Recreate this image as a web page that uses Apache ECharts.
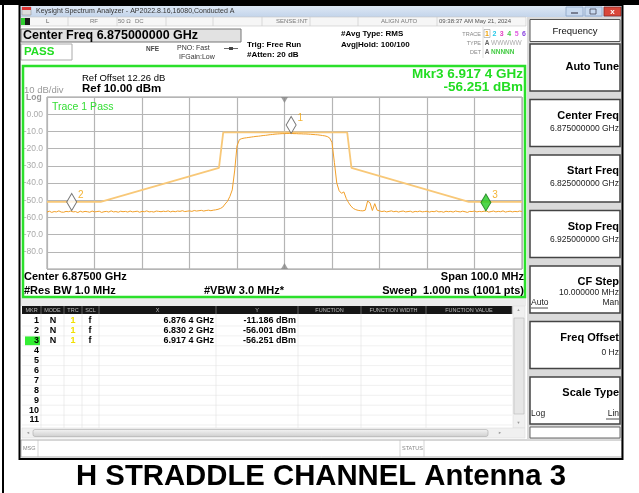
<!DOCTYPE html>
<html>
<head>
<meta charset="utf-8">
<script src="https://cdn.jsdelivr.net/npm/echarts@6/dist/echarts.min.js"></script>
<style>
  html, body { margin: 0; padding: 0; background: #fff; }
  #chart { width: 639px; height: 493px; }
</style>
</head>
<body>
<div id="chart"></div>
<script>
// frequency is MHz offset from centre (6.875 GHz), level in dBm
var centerMHz = 6875;
var traceStart = -50;
var traceStep = 0.5;
var traceLevel = [
  -56.9,-56.4,-57.1,-56.6,-56.8,-56.2,-56.9,-57.0,-56.5,-56.7,
  -56.3,-56.8,-56.6,-57.2,-56.4,-56.9,-56.5,-56.7,-57.0,-56.3,
  -56.8,-56.6,-56.4,-57.1,-56.7,-56.5,-56.9,-56.2,-56.8,-56.6,
  -57.0,-56.4,-56.7,-56.5,-56.9,-56.3,-56.8,-56.6,-56.4,-57.0,
  -56.5,-56.7,-56.2,-56.8,-56.6,-56.9,-56.3,-56.5,-56.7,-56.4,
  -56.6,-56.2,-56.8,-56.4,-56.7,-56.3,-56.5,-56.1,-56.6,-56.4,
  -56.2,-56.5,-56.0,-56.3,-56.1,-55.9,-56.3,-56.0,-55.8,-56.1,
  -55.8,-55.6,-55.3,-54.8,-54.0,-52.2,-50.6,-47.8,-44.0,-33.0,
  -18.5,-14.8,-14.2,-13.9,-13.7,-13.5,-13.3,-13.1,-12.9,-12.8,
  -12.6,-12.4,-12.3,-12.1,-11.9,-11.8,-11.6,-11.5,-11.4,-11.3,
  -11.3,-11.2,-11.2,-11.19,-11.3,-11.3,-11.4,-11.4,-11.5,-11.5,
  -11.6,-11.7,-11.8,-11.9,-12.0,-12.2,-12.4,-12.6,-13.0,-13.8,
  -16.5,-28.0,-40.0,-44.5,-46.0,-45.2,-49.0,-51.5,-53.5,-54.8,
  -55.5,-55.9,-56.1,-56.2,-55.8,-50.5,-51.5,-56.0,-52.0,-55.8,
  -56.2,-56.6,-56.3,-56.8,-56.5,-56.2,-56.7,-56.4,-56.9,-56.5,
  -56.3,-56.8,-56.6,-56.4,-57.0,-56.5,-56.7,-56.3,-56.8,-56.6,
  -56.4,-56.9,-56.5,-56.7,-56.2,-56.8,-56.6,-57.0,-56.4,-56.7,
  -56.5,-56.9,-56.3,-56.6,-56.8,-56.4,-56.7,-57.1,-56.5,-56.6,
  -56.3,-56.8,-56.5,-56.7,-56.4,-56.3,-56.9,-56.6,-56.3,-56.8,
  -56.5,-56.7,-56.2,-56.9,-56.6,-56.4,-56.8,-56.5,-56.7,-56.3,-56.6
];
var limitFreq = [-50, -38.7, -13.8, -12.9, 13.2, 14.1, 38.8, 50];
var limitLevel = [-51, -51, -31.2, -10.6, -10.6, -31.2, -51, -51];
var markerNames = ['1', '2', '3'];
var markerFreq = [1.4, -44.8, 42.4];
var markerLevel = [-11.186, -56.001, -56.251];
var tableRows = ['1','2','3','4','5','6','7','8','9','10','11'];
var tableCols = ['MKR','MODE','TRC','SCL','X','Y','FUNCTION','FUNCTION WIDTH','FUNCTION VALUE'];
var colEdges = [22, 41, 64, 82, 99, 216, 298, 361, 426, 512];
var softkeys = ['Auto Tune','Center Freq','Start Freq','Stop Freq','CF Step','Freq Offset','Scale Type'];
var softValues = ['', '6.875000000 GHz', '6.825000000 GHz', '6.925000000 GHz', '10.000000 MHz', '0 Hz', ''];

var F = '"Liberation Sans", Arial, sans-serif';

function fmtFreq(f) {
    var s = ((centerMHz + f) / 1000).toFixed(4);
    return s.slice(0, -1) + ' ' + s.slice(-1) + ' GHz';
}
function fmtLevel(v) {
    return v.toFixed(3) + ' dBm';
}

function txt(x, y, s, size, o) {
    o = o || {};
    return {
        type: 'text', x: x, y: y, z: 20,
        style: {
            text: s, fill: o.color || '#000',
            font: (o.bold ? 'bold ' : '') + size + 'px ' + F,
            align: o.align || 'left', verticalAlign: 'middle'
        }
    };
}
function box(x, y, w, h, fill, stroke, lw, z) {
    return {
        type: 'rect', z: z || 5,
        shape: { x: x, y: y, width: w, height: h },
        style: { fill: fill || 'none', stroke: stroke || null, lineWidth: lw || 1 }
    };
}
function ln(x1, y1, x2, y2, c, lw) {
    return {
        type: 'line', z: 6,
        shape: { x1: x1, y1: y1, x2: x2, y2: y2 },
        style: { stroke: c, lineWidth: lw || 1 }
    };
}

var g = [];

// page frame
g.push(box(0, 0, 639, 5, '#000'));
g.push(box(2, 0, 2, 493, '#000'));
g.push(box(19.5, 5, 603, 454, 'none', '#000', 2, 7));

// title bar
g.push({
    type: 'rect', z: 5, shape: { x: 20, y: 5, width: 602, height: 12 },
    style: { fill: new echarts.graphic.LinearGradient(0, 0, 0, 1, [
        { offset: 0, color: '#dfe9f6' }, { offset: 1, color: '#c3d4ea' }]) }
});
g.push(box(22, 7, 9, 8, '#ddd', '#888', 0.5));
g.push(box(22, 7, 9, 3, '#d33'));
g.push(txt(36, 11, 'Keysight Spectrum Analyzer - AP2022.8.16,16080,Conducted A', 7, { color: '#333' }));
g.push(box(566, 7, 17, 9, '#c9daf0', '#8aa2c4', 0.8));
g.push(box(585, 7, 17, 9, '#c9daf0', '#8aa2c4', 0.8));
g.push(box(604, 7, 17, 9, '#d9473a', '#8c2a22', 0.8));
g.push(ln(571, 13, 578, 13, '#445', 1.2));
g.push(box(590, 9, 6, 5, 'none', '#445', 0.8));
g.push(txt(612.5, 11.5, 'x', 8, { color: '#fff', bold: true, align: 'center' }));

// status row
g.push(box(20, 17, 506, 9, '#f6f6f6', '#c8c8c8', 0.6));
g.push(box(21, 18, 9, 7, '#1a1a1a'));
g.push(box(21, 18, 4, 7, '#2ecc2e'));
[68, 117, 166, 213, 262, 310, 358, 437].forEach(function (x) {
    g.push(ln(x, 17, x, 26, '#c8c8c8', 0.6));
});
g.push(txt(46, 21.5, 'L', 6, { color: '#555' }));
g.push(txt(90, 21.5, 'RF', 6, { color: '#777' }));
g.push(txt(118, 21.5, '50 Ω', 6, { color: '#777' }));
g.push(txt(135, 21.5, 'DC', 6, { color: '#777' }));
g.push(txt(276, 21.5, 'SENSE:INT', 6, { color: '#777' }));
g.push(txt(381, 21.5, 'ALIGN AUTO', 6, { color: '#777' }));
g.push(txt(439, 21.5, '09:38:37 AM May 21, 2024', 6, { color: '#555' }));

// setting summary
g.push(box(21, 29, 220, 13, '#e2e2e2', '#777', 1));
g.push(txt(23, 35.5, 'Center Freq 6.875000000 GHz', 12.5, { bold: true }));
g.push(box(21, 44, 51, 16, '#fff', '#aaa', 1));
g.push(txt(24, 52, 'PASS', 11.5, { bold: true, color: '#22dd22' }));
g.push(txt(146, 49, 'NFE', 6.5, { bold: true, color: '#444' }));
g.push(txt(177, 48.5, 'PNO: Fast', 7, { color: '#333' }));
g.push(ln(224, 48.5, 238, 48.5, '#444', 0.8));
g.push(box(229, 47, 4, 3, '#444'));
g.push(txt(179, 57, 'IFGain:Low', 7, { color: '#333' }));
g.push(txt(247, 44.5, 'Trig: Free Run', 8, { bold: true }));
g.push(txt(247, 55, '#Atten: 20 dB', 8, { bold: true }));
g.push(txt(341, 34, '#Avg Type: RMS', 8, { bold: true }));
g.push(txt(341, 45, 'Avg|Hold: 100/100', 8, { bold: true }));
g.push(ln(483, 27, 483, 58, '#ccc', 0.6));
g.push(txt(481, 34, 'TRACE', 5.5, { color: '#888', align: 'right' }));
g.push(txt(481, 43, 'TYPE', 5.5, { color: '#888', align: 'right' }));
g.push(txt(481, 52, 'DET', 5.5, { color: '#888', align: 'right' }));
var traceColors = ['#f0a000', '#22c8e8', '#e040c0', '#44cc44', '#e060e0', '#8a44e0'];
g.push(box(484, 29.5, 6, 8, '#fff', '#999', 0.6));
traceColors.forEach(function (c, i) {
    g.push(txt(487 + i * 7.4, 34, String(i + 1), 7, { bold: true, color: c, align: 'center' }));
});
g.push(txt(487, 43, 'A', 6.5, { bold: true, color: '#666', align: 'center' }));
g.push(txt(491, 43, 'WWWWW', 6.5, { color: '#aaa' }));
g.push(txt(487, 52, 'A', 6.5, { bold: true, color: '#666', align: 'center' }));
g.push(txt(491, 52, 'NNNNN', 6.5, { bold: true, color: '#44cc44' }));

// plot frame and annotations
g.push(box(23, 66, 502, 231, 'none', '#2be02b', 2.5, 8));
g.push(txt(82, 78, 'Ref Offset 12.26 dB', 9.5));
g.push(txt(82, 89, 'Ref 10.00 dBm', 11.5, { bold: true }));
g.push(txt(24, 90, '10 dB/div', 9.5, { color: '#999' }));
g.push(txt(26, 97.5, 'Log', 8.5, { color: '#999', bold: true }));
g.push(txt(523, 74, 'Mkr3 ' + fmtFreq(markerFreq[2]), 13.5, { bold: true, color: '#22dd22', align: 'right' }));
g.push(txt(523, 87.5, markerLevel[2].toFixed(3) + ' dBm', 13.5, { bold: true, color: '#22dd22', align: 'right' }));
g.push(txt(52, 107, 'Trace 1 Pass', 10.5, { color: '#33dd33' }));
g.push(txt(24, 277, 'Center 6.87500 GHz', 11, { bold: true }));
g.push(txt(524, 277, 'Span 100.0 MHz', 11, { bold: true, align: 'right' }));
g.push(txt(24, 291, '#Res BW 1.0 MHz', 11, { bold: true }));
g.push(txt(204, 291, '#VBW 3.0 MHz*', 11, { bold: true }));
g.push(txt(524, 291, 'Sweep  1.000 ms (1001 pts)', 11, { bold: true, align: 'right' }));

// marker table
g.push(box(20, 298, 506, 8, '#ececec'));
g.push(box(22, 306, 490, 8, '#161616'));
tableCols.forEach(function (c, i) {
    var a = colEdges[i], b = colEdges[i + 1];
    g.push(ln(b, 306, b, 314, '#777', 0.8));
    g.push(txt((a + b) / 2, 310, c, 5.5, { color: '#bbb', align: 'center' }));
});
g.push(box(22, 314, 490, 114, '#fff'));
tableRows.forEach(function (r, i) {
    var y = 321 + i * 9.9;
    g.push(ln(22, y + 5, 512, y + 5, '#e6e6e6', 0.6));
    if (i === 2) g.push(box(25, y - 4.5, 15, 9, '#33ee33'));
    g.push(txt(39, y, r, 9, { bold: true, align: 'right' }));
    if (i < markerNames.length) {
        g.push(txt(53, y, 'N', 9, { bold: true, align: 'center' }));
        g.push(txt(73, y, '1', 9, { bold: true, color: '#f2e000', align: 'center' }));
        g.push(txt(90, y, 'f', 9, { bold: true, align: 'center' }));
        g.push(txt(214, y, fmtFreq(markerFreq[i]), 9, { bold: true, align: 'right' }));
        g.push(txt(296, y, fmtLevel(markerLevel[i]), 9, { bold: true, align: 'right' }));
    }
});
colEdges.slice(1, -1).forEach(function (x) {
    g.push(ln(x, 314, x, 428, '#e0e0e0', 0.6));
});
g.push(box(513, 306, 12, 122, '#f0f0f0', '#ddd', 0.6));
g.push(box(514, 318, 10, 96, '#e6e6e6', '#bbb', 0.6));
g.push(txt(518.5, 310, '▲', 4, { color: '#999', align: 'center' }));
g.push(txt(518.5, 423, '▼', 4, { color: '#999', align: 'center' }));
g.push(box(22, 428, 503, 10, '#f0f0f0', '#ddd', 0.6));
g.push({
    type: 'rect', z: 6, shape: { x: 33, y: 429.5, width: 455, height: 7, r: 2 },
    style: { stroke: '#aaa', lineWidth: 0.6, fill: new echarts.graphic.LinearGradient(0, 0, 0, 1, [
        { offset: 0, color: '#f4f4f4' }, { offset: 1, color: '#cfcfcf' }]) }
});
g.push(txt(26, 433, '◄', 4, { color: '#999' }));
g.push(txt(498, 433, '►', 4, { color: '#999' }));
g.push(box(21, 440, 601, 17, '#fff', '#999', 0.8));
g.push(ln(38, 440, 38, 457, '#bbb', 0.6));
g.push(txt(23, 448.5, 'MSG', 5.5, { color: '#888' }));
g.push(ln(400, 440, 400, 457, '#bbb', 0.6));
g.push(ln(424, 440, 424, 457, '#bbb', 0.6));
g.push(txt(402, 448.5, 'STATUS', 5.5, { color: '#888' }));

// softkey panel
g.push(box(527, 17, 95, 423, '#dadada'));
g.push(box(530, 19.5, 90, 22, '#fff', '#555', 1));
g.push(txt(575, 31, 'Frequency', 9.5, { align: 'center', color: '#111' }));
softkeys.forEach(function (k, i) {
    var top = 44 + i * 55.5;
    g.push(box(530, top, 90, 47, '#fff', '#444', 1.5));
    if (i === 0) {
        g.push(txt(619, top + 23, k, 11, { bold: true, align: 'right' }));
        return;
    }
    g.push(txt(619, top + 16, k, 11, { bold: true, align: 'right' }));
    if (softValues[i]) g.push(txt(619, top + (i === 4 ? 27 : (i === 5 ? 31 : 29)), softValues[i], 8.5, { align: 'right', color: '#222' }));
    if (i === 4) {
        g.push(txt(531, top + 37, 'Auto', 8.5, { color: '#222' }));
        g.push(ln(531, top + 42, 548, top + 42, '#222', 0.8));
        g.push(txt(619, top + 37, 'Man', 8.5, { color: '#222', align: 'right' }));
    }
    if (i === 6) {
        g.push(txt(531, top + 37, 'Log', 8.5, { color: '#222' }));
        g.push(txt(619, top + 37, 'Lin', 8.5, { color: '#222', align: 'right' }));
        g.push(ln(606, top + 42, 619, top + 42, '#222', 0.8));
    }
});
g.push(box(530, 427, 90, 11, '#fff', '#666', 1));

// caption
g.push(txt(321, 477, 'H STRADDLE CHANNEL Antenna 3', 29.3, { bold: true, align: 'center' }));

var chart = echarts.init(document.getElementById('chart'), null, { renderer: 'canvas' });

var markerData = markerNames.map(function (n, i) {
    var green = n === '3';
    return {
        name: n,
        value: [markerFreq[i], markerLevel[i]],
        itemStyle: { color: green ? '#22cc22' : '#fff', borderColor: green ? '#117711' : '#555', borderWidth: 1 }
    };
});

option = {
    backgroundColor: '#fff',
    animation: false,
    grid: { left: 47, top: 97, width: 475, height: 172, show: true, borderColor: '#999', borderWidth: 1 },
    xAxis: {
        type: 'value', min: -50, max: 50, interval: 10,
        axisLine: { show: false }, axisTick: { show: false }, axisLabel: { show: false },
        splitLine: { show: true, lineStyle: { color: '#b5b5b5', width: 1.2 } }
    },
    yAxis: {
        type: 'value', min: -90, max: 10, interval: 10,
        axisLine: { show: false }, axisTick: { show: false },
        axisLabel: {
            color: '#aaa', fontSize: 8.5, fontFamily: F, margin: 4,
            formatter: function (v) {
                if (v === 10 || v === -90) return '';
                return v === 0 ? '0.00' : v.toFixed(1);
            }
        },
        splitLine: { show: true, lineStyle: { color: '#b5b5b5', width: 1.2 } }
    },
    graphic: { elements: g },
    series: [
        {
            name: 'Limit', type: 'line', showSymbol: false, silent: true,
            data: limitFreq.map(function (f, i) { return [f, limitLevel[i]]; }),
            lineStyle: { color: '#f8c878', width: 1.8 }
        },
        {
            name: 'Trace 1', type: 'line', showSymbol: false, silent: true,
            data: traceLevel.map(function (v, i) { return [traceStart + i * traceStep, v]; }),
            lineStyle: { color: '#f2a02a', width: 1 }
        },
        {
            name: 'Centre', type: 'scatter', silent: true, z: 4,
            data: [
                { value: [0, 10], symbolRotate: 180, symbolOffset: [0, 3] },
                { value: [0, -90], symbolOffset: [0, -3] }
            ],
            symbol: 'triangle', symbolSize: [7, 6],
            itemStyle: { color: '#888' }
        },
        {
            name: 'Markers', type: 'scatter', silent: true, z: 5,
            data: markerData,
            symbol: 'diamond', symbolSize: [10, 17], symbolOffset: [0, -8.5],
            label: {
                show: true, formatter: '{b}', color: '#f0a000', fontSize: 10, fontFamily: F,
                position: 'right', distance: 1, offset: [0, -7]
            }
        }
    ]
};

chart.setOption(option);
</script>
</body>
</html>
